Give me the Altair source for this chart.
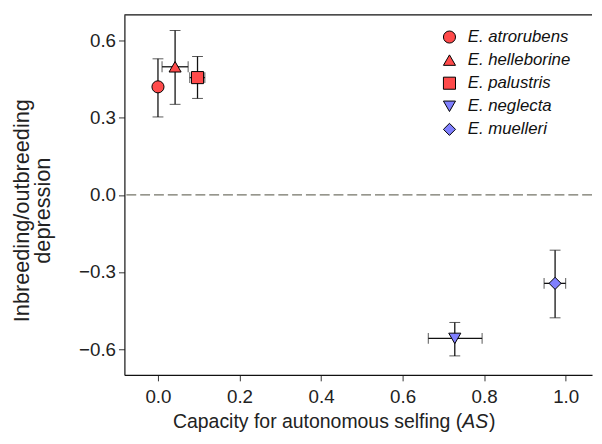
import altair as alt
import pandas as pd

species = ["E. atrorubens", "E. helleborine", "E. palustris", "E. neglecta", "E. muelleri"]
as_mean = [0.0, 0.042, 0.097, 0.728, 0.974]
as_lo = [None, 0.010, 0.078, 0.663, 0.947]
as_hi = [None, 0.074, 0.115, 0.795, 1.000]
dep_mean = [0.42, 0.498, 0.456, -0.558, -0.344]
dep_lo = [0.303, 0.352, 0.375, -0.626, -0.478]
dep_hi = [0.529, 0.639, 0.538, -0.496, -0.215]
colors = ["#ff4b4b", "#ff4b4b", "#ff4b4b", "#8080ff", "#8080ff"]
shapes = ["circle", "triangle-up", "square", "triangle-down", "diamond"]
x_ticks = [0.0, 0.2, 0.4, 0.6, 0.8, 1.0]
y_ticks = [-0.6, -0.3, 0.0, 0.3, 0.6]

df = pd.DataFrame({
    "species": species, "as_mean": as_mean, "as_lo": as_lo, "as_hi": as_hi,
    "dep_mean": dep_mean, "dep_lo": dep_lo, "dep_hi": dep_hi,
})

FONT = "Liberation Sans"
W, H = 474, 365
xs = alt.Scale(domain=[-0.0823, 1.0646], nice=False, zero=False)
ys = alt.Scale(domain=[-0.7, 0.7], nice=False, zero=False)

xaxis = alt.Axis(values=x_ticks, format=".1f", title=None, grid=False,
                 labelFont=FONT, labelFontSize=19, labelColor="#222222",
                 tickSize=6, tickColor="#333333", labelPadding=7,
                 domainColor="#111111", domainWidth=1.2)
yaxis = alt.Axis(values=y_ticks, format=".1f", title=["Inbreeding/outbreeding", "depression"],
                 grid=False, labelFont=FONT, labelFontSize=19, labelColor="#222222",
                 tickSize=6, tickColor="#333333", labelPadding=3,
                 domainColor="#111111", domainWidth=1.2,
                 titleFont=FONT, titleFontSize=22, titleFontWeight="normal", titleColor="#222222",
                 titleX=-97, titleY=198, titleBaseline="alphabetic", titleLineHeight=21,
                 titleAngle=-90, titleAlign="center")

X = lambda f: alt.X(f, scale=xs, axis=xaxis)
Y = lambda f: alt.Y(f, scale=ys, axis=yaxis)

base = alt.Chart(df)

zero_line = alt.Chart(alt.Data(values=[{"z": 0}])).mark_rule(
    color="#747468", strokeDash=[10, 4], strokeWidth=1.4
).encode(y=Y("z:Q"))

vbars = base.mark_errorbar(ticks={"size": 11}, color="#111111", rule={"strokeWidth": 1.3}).encode(
    x=X("as_mean:Q"), y=Y("dep_lo:Q"), y2="dep_hi:Q"
)
hbars = base.transform_filter("isValid(datum.as_lo)").mark_errorbar(
    ticks={"size": 11}, color="#111111", rule={"strokeWidth": 1.3}
).encode(
    y=Y("dep_mean:Q"), x=X("as_lo:Q"), x2="as_hi:Q"
)

legend = alt.Legend(title=None, orient="none", legendX=321, legendY=14,
                    labelFont=FONT, labelFontSize=17, labelFontStyle="italic", labelColor="#111111",
                    symbolSize=150, symbolStrokeColor="black", symbolStrokeWidth=1,
                    rowPadding=5.4, labelOffset=10)

points = base.mark_point(filled=True, size=150, stroke="black", strokeWidth=1, opacity=1).encode(
    x=X("as_mean:Q"), y=Y("dep_mean:Q"),
    color=alt.Color("species:N", sort=species, scale=alt.Scale(domain=species, range=colors), legend=legend),
    shape=alt.Shape("species:N", sort=species, scale=alt.Scale(domain=species, range=shapes), legend=legend),
)

one = alt.Data(values=[{"k": 1}])
top_border = alt.Chart(one).mark_rule(color="#111111", strokeWidth=1.2).encode(
    x=alt.value(0), x2=alt.value(W), y=alt.value(0)
)
TFS = 19.7
title_a = alt.Chart(one).mark_text(font=FONT, fontSize=TFS, align="right", baseline="alphabetic", color="#222222").encode(
    x=alt.value(342.5), y=alt.value(H + 54), text=alt.value("Capacity for autonomous selfing (")
)
title_b = alt.Chart(one).mark_text(font=FONT, fontSize=TFS, fontStyle="italic", align="left", baseline="alphabetic", color="#222222").encode(
    x=alt.value(342.5), y=alt.value(H + 54), text=alt.value("AS")
)
title_c = alt.Chart(one).mark_text(font=FONT, fontSize=TFS, align="left", baseline="alphabetic", color="#222222").encode(
    x=alt.value(369.5), y=alt.value(H + 54), text=alt.value(")")
)

chart = alt.layer(zero_line, vbars, hbars, points, top_border, title_a, title_b, title_c).properties(
    width=W, height=H,
    autosize=alt.AutoSizeParams(type="none"),
    padding={"left": 118, "top": 4, "right": 2, "bottom": 60},
).configure_view(stroke=None)

chart.save("out.html", embed_options={"renderer": "svg", "actions": False})
